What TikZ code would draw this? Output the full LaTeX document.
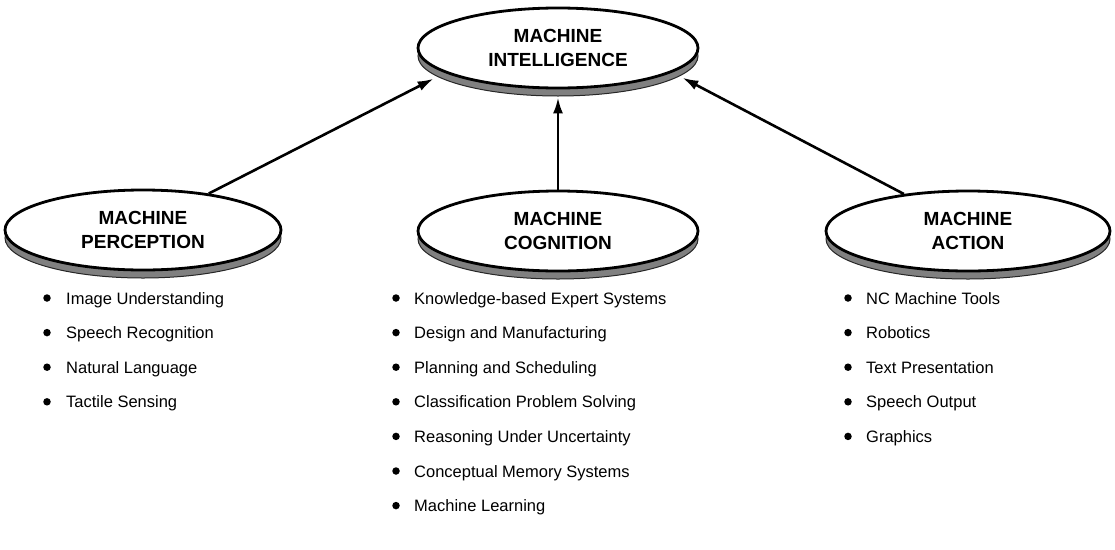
\documentclass[tikz,border=0pt]{standalone}
\usepackage{fontspec}
\setmainfont{Liberation Sans}
\usetikzlibrary{arrows.meta,positioning,shapes.geometric,shadows}

\begin{document}
\begin{tikzpicture}[x=1pt,y=-1pt,
  area/.style={ellipse,draw,line width=2.8pt,fill=white,minimum width=280pt,minimum height=80pt,
    inner sep=0pt,align=center,font=\fontsize{19}{24}\selectfont\bfseries,
    drop shadow={shadow xshift=0pt,shadow yshift=-8pt,opacity=1,fill=black!50,draw=black!85,line width=1pt}},
  link/.style={line width=2.6pt,-{Latex[length=16pt,width=10pt]}},
  item/.style={anchor=base west,inner sep=0pt,font=\fontsize{16.5}{20}\selectfont},
  dot/.style={circle,fill,inner sep=0pt,minimum size=7.5pt}]
  \useasboundingbox (0,0) rectangle (1115,549);
  % the four fields
  \node[area] (intel) at (558,48) {MACHINE\\INTELLIGENCE};
  \node[area,minimum width=276pt] (perc) at (143,230) {MACHINE\\PERCEPTION};
  \node[area] (cog) at (558,231) {MACHINE\\COGNITION};
  \node[area,minimum width=284pt] (act) at (968,231) {MACHINE\\ACTION};
  \draw[link] (perc.29) -- ([yshift=-11pt]intel.189);
  \draw[link] (cog.north) -- ([yshift=-8pt]intel.south);
  \draw[link] (act.150) -- ([yshift=-10pt]intel.-9);
  % lists under each field
  \foreach \t [count=\i] in {Image Understanding,Speech Recognition,Natural Language,Tactile Sensing}{
    \node[item] (p\i) at (66,{304+34.6*(\i-1)}) {\t};
    \node[dot] (pd\i) at ([xshift=-19pt,yshift=6pt]p\i.base west) {};
  }
  \foreach \t [count=\i] in {Knowledge-based Expert Systems,Design and Manufacturing,Planning and Scheduling,
    Classification Problem Solving,Reasoning Under Uncertainty,Conceptual Memory Systems,Machine Learning}{
    \node[item] (c\i) at (414,{304+34.6*(\i-1)}) {\t};
    \node[dot] (cd\i) at ([xshift=-18pt,yshift=6pt]c\i.base west) {};
  }
  \foreach \t [count=\i] in {NC Machine Tools,Robotics,Text Presentation,Speech Output,Graphics}{
    \node[item] (a\i) at (866,{304+34.6*(\i-1)}) {\t};
    \node[dot] (ad\i) at ([xshift=-18pt,yshift=6pt]a\i.base west) {};
  }
\end{tikzpicture}
\end{document}
